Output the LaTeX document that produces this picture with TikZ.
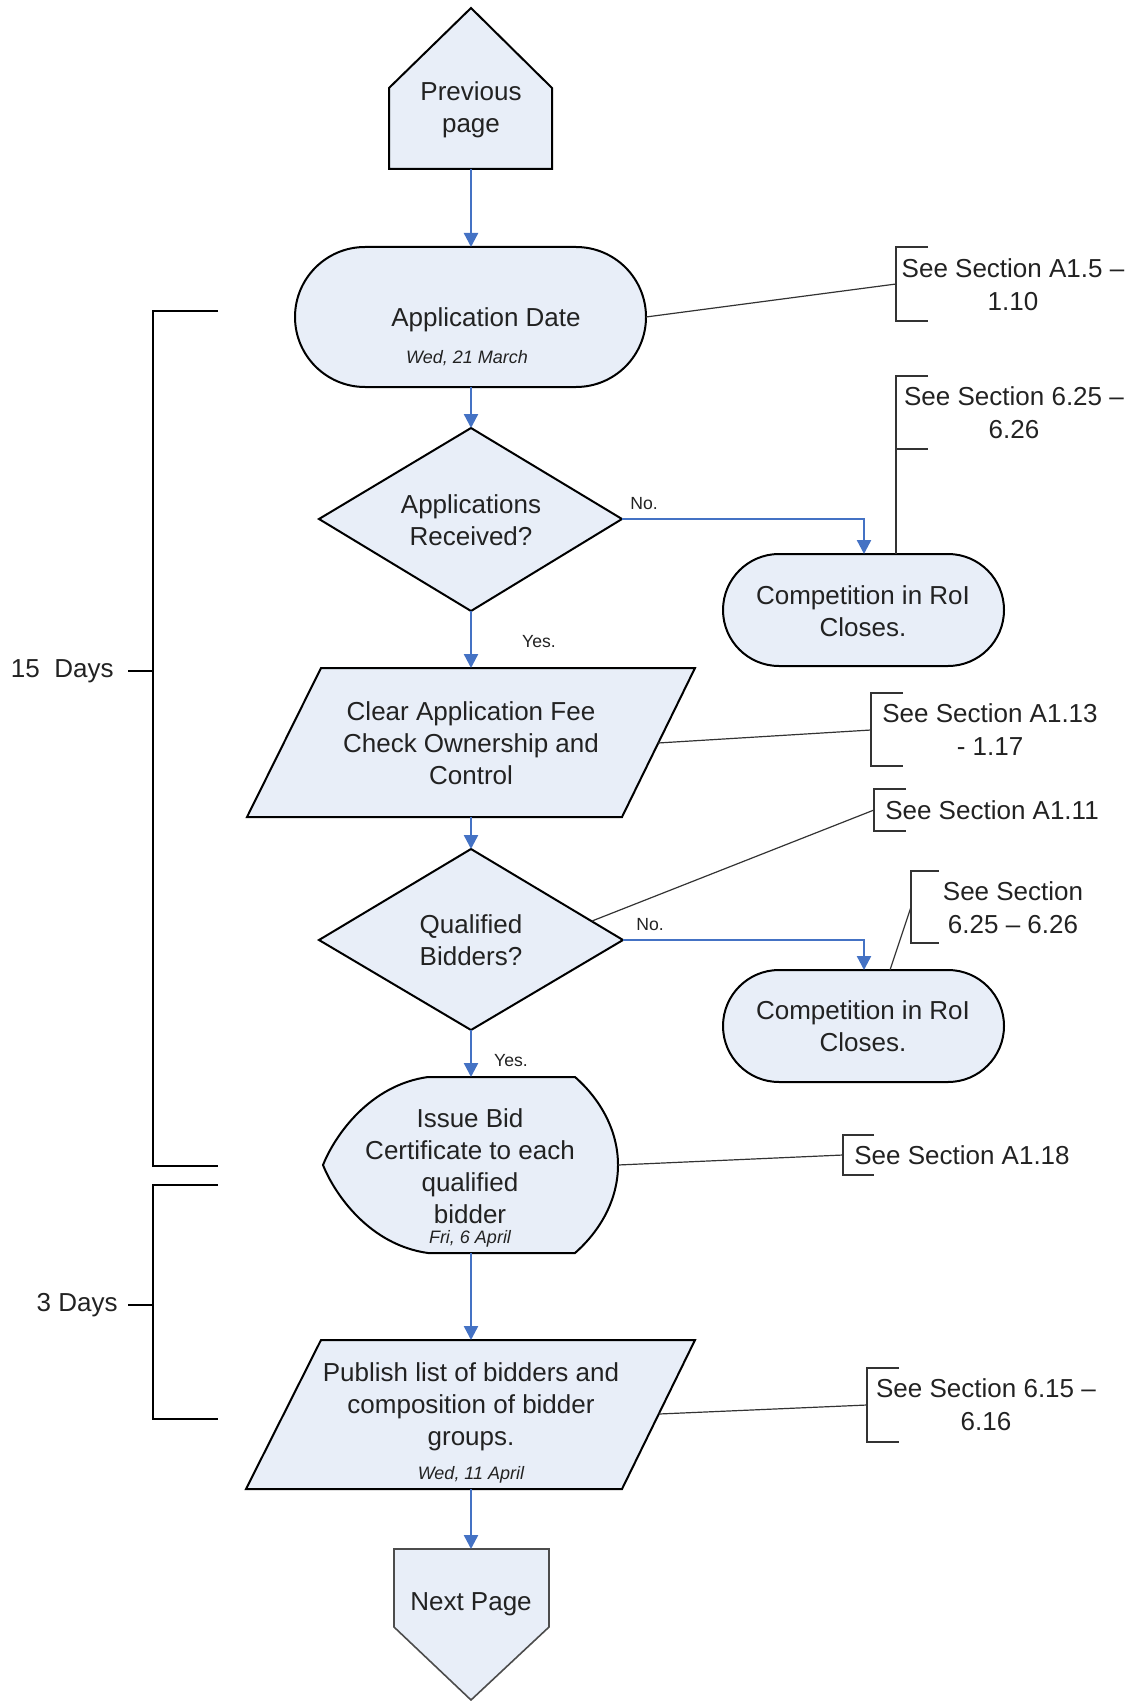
\documentclass[tikz,border=0pt]{standalone}
\usepackage{fontspec}
\setmainfont{Liberation Sans}
\usetikzlibrary{arrows.meta}

\definecolor{boxfill}{HTML}{E8EEF8}
\definecolor{flowblue}{HTML}{4472C4}
\definecolor{notegray}{HTML}{333333}
\definecolor{inkgray}{HTML}{222222}

\tikzset{
  shapeline/.style={draw=black, line width=1pt, fill=boxfill, line join=miter},
  pageline/.style={draw=black!70, line width=0.8pt, fill=boxfill},
  flow/.style={draw=flowblue, line width=1.2pt, -{Triangle[width=7pt,length=7pt]}},
  leader/.style={draw=notegray, line width=0.6pt},
  notebrk/.style={draw=notegray, line width=0.8pt},
  span/.style={draw=black, line width=1.1pt},
  maintext/.style={font=\fontsize{13}{16}\selectfont, align=center, inner sep=0pt, text=inkgray},
  datetext/.style={font=\fontsize{9}{11}\selectfont\itshape, inner sep=0pt, text=inkgray},
  notetext/.style={font=\fontsize{13}{16.5}\selectfont, align=center, inner sep=0pt, text=inkgray},
  yesno/.style={font=\fontsize{8.8}{10}\selectfont, inner sep=0pt, text=inkgray},
  spantext/.style={font=\fontsize{13}{16}\selectfont, inner sep=0pt, anchor=east, text=inkgray},
}

\begin{document}
\begin{tikzpicture}[x=0.5pt, y=-0.5pt]
\useasboundingbox (0,0) rectangle (1138,1701);

% ---------- shapes of the main column ----------
% off-page connector from the previous page
\draw[shapeline] (389,169) -- (389,88) -- (471,8) -- (552,88) -- (552,169) -- cycle;
\coordinate (prevS) at (471,169);
\node[maintext] (prevT) at (471,110) {Previous\\page};

% application date terminal
\draw[shapeline, rounded corners=35pt] (295,247) rectangle (646,387);
\coordinate (appN) at (471,247);
\coordinate (appS) at (471,387);
\coordinate (appE) at (646,317);
\node[maintext] (appT) at (486,320) {Application Date};
\node[datetext] (appD) at (467,358) {Wed, 21 March};

% decision: applications received
\draw[shapeline] (471,428) -- (622,519) -- (471,611) -- (319,519) -- cycle;
\coordinate (d1N) at (471,428);
\coordinate (d1S) at (471,611);
\coordinate (d1E) at (622,519);
\node[maintext] (d1T) at (471,520) {Applications\\Received?};

% competition closes (first)
\draw[shapeline, rounded corners=28pt] (723,554) rectangle (1004,666);
\coordinate (c1N) at (864,554);
\coordinate (c1Nr) at (896,554);
\node[maintext] (c1T) at (863,611) {Competition in RoI\\Closes.};

% clear fee / ownership check
\draw[shapeline] (321,668) -- (695,668) -- (622,817) -- (247,817) -- cycle;
\coordinate (p1N) at (471,668);
\coordinate (p1S) at (471,817);
\coordinate (p1E) at (658,743);
\node[maintext] (p1T) at (471,743) {Clear Application Fee\\Check Ownership and\\Control};

% decision: qualified bidders
\draw[shapeline] (471,849) -- (623,940) -- (471,1030) -- (319,940) -- cycle;
\coordinate (d2N) at (471,849);
\coordinate (d2S) at (471,1030);
\coordinate (d2E) at (623,940);
\coordinate (d2NE) at (592,921);
\node[maintext] (d2T) at (471,940) {Qualified\\Bidders?};

% competition closes (second)
\draw[shapeline, rounded corners=28pt] (723,970) rectangle (1004,1082);
\coordinate (c2N) at (864,970);
\coordinate (c2Nr) at (890,970);
\node[maintext] (c2T) at (863,1026) {Competition in RoI\\Closes.};

% display shape: bid certificates
\draw[shapeline] (428,1077) -- (575,1077)
  .. controls (600,1099) and (618,1130) .. (618,1165)
  .. controls (618,1200) and (600,1231) .. (575,1253)
  -- (428,1253)
  .. controls (370,1245) and (335,1195) .. (323,1165)
  .. controls (335,1135) and (370,1085) .. (428,1077) -- cycle;
\coordinate (ibN) at (471,1077);
\coordinate (ibS) at (471,1253);
\coordinate (ibE) at (618,1165);
\node[maintext] (ibT) at (470,1166) {Issue Bid\\Certificate to each\\qualified\\bidder};
\node[datetext] (ibD) at (470,1239) {Fri, 6 April};

% publish list
\draw[shapeline] (321,1340) -- (695,1340) -- (622,1489) -- (246,1489) -- cycle;
\coordinate (p2N) at (471,1340);
\coordinate (p2S) at (471,1489);
\coordinate (p2E) at (659,1414);
\node[maintext] (p2T) at (471,1407) {Publish list of bidders and\\composition of bidder\\groups.};
\node[datetext] (p2D) at (471,1475) {Wed, 11 April};

% off-page connector to the next page
\draw[pageline] (394,1549) -- (549,1549) -- (549,1627) -- (471,1700) -- (394,1627) -- cycle;
\coordinate (nxN) at (471,1549);
\node[maintext] (nxT) at (471,1604) {Next Page};

% ---------- flow arrows ----------
\draw[flow] (prevS) -- (appN);
\draw[flow] (appS) -- (d1N);
\draw[flow] (d1S) -- (p1N);
\draw[flow] (d1E) -| (c1N);
\draw[flow] (p1S) -- (d2N);
\draw[flow] (d2E) -| (c2N);
\draw[flow] (d2S) -- (ibN);
\draw[flow] (ibS) -- (p2N);
\draw[flow] (p2S) -- (nxN);

\node[yesno] (no1) at (644,504) {No.};
\node[yesno] (yes1) at (539,642) {Yes.};
\node[yesno] (no2) at (650,925) {No.};
\node[yesno] (yes2) at (511,1061) {Yes.};

% ---------- section references ----------
\coordinate (b1) at (896,284);
\draw[notebrk] (928,247) -- (896,247) -- (896,321) -- (928,321);
\node[notetext] (a1) at (1013,285) {See Section A1.5 --\\1.10};
\draw[leader] (appE) -- (b1);

\coordinate (b2) at (896,412);
\draw[notebrk] (928,376) -- (896,376) -- (896,449) -- (928,449);
\node[notetext] (a2) at (1014,413) {See Section 6.25 --\\6.26};
\draw[leader] (b2) -- (c1Nr);

\coordinate (b3) at (871,730);
\draw[notebrk] (903,693) -- (871,693) -- (871,766) -- (903,766);
\node[notetext] (a3) at (990,730) {See Section A1.13\\- 1.17};
\draw[leader] (p1E) -- (b3);

\coordinate (b4) at (874,810);
\draw[notebrk] (906,789) -- (874,789) -- (874,831) -- (906,831);
\node[notetext] (a4) at (992,810) {See Section A1.11};
\draw[leader] (d2NE) -- (b4);

\coordinate (b5) at (911,907);
\draw[notebrk] (939,871) -- (911,871) -- (911,943) -- (939,943);
\node[notetext] (a5) at (1013,908) {See Section\\6.25 -- 6.26};
\draw[leader] (b5) -- (c2Nr);

\coordinate (b6) at (843,1155);
\draw[notebrk] (874,1135) -- (843,1135) -- (843,1175) -- (874,1175);
\node[notetext] (a6) at (962,1155) {See Section A1.18};
\draw[leader] (ibE) -- (b6);

\coordinate (b7) at (867,1405);
\draw[notebrk] (899,1368) -- (867,1368) -- (867,1442) -- (899,1442);
\node[notetext] (a7) at (986,1405) {See Section 6.15 --\\6.16};
\draw[leader] (p2E) -- (b7);

% ---------- elapsed-time spans ----------
\draw[span] (218,311) -- (153,311) -- (153,1166) -- (218,1166);
\node[spantext] (s15) at (114,671) {15\ \ Days};
\coordinate (s15t) at (128,671);
\coordinate (s15m) at (153,671);
\draw[span] (s15t) -- (s15m);

\draw[span] (218,1185) -- (153,1185) -- (153,1419) -- (218,1419);
\node[spantext] (s3) at (118,1305) {3 Days};
\coordinate (s3t) at (128,1305);
\coordinate (s3m) at (153,1305);
\draw[span] (s3t) -- (s3m);

\end{tikzpicture}
\end{document}
